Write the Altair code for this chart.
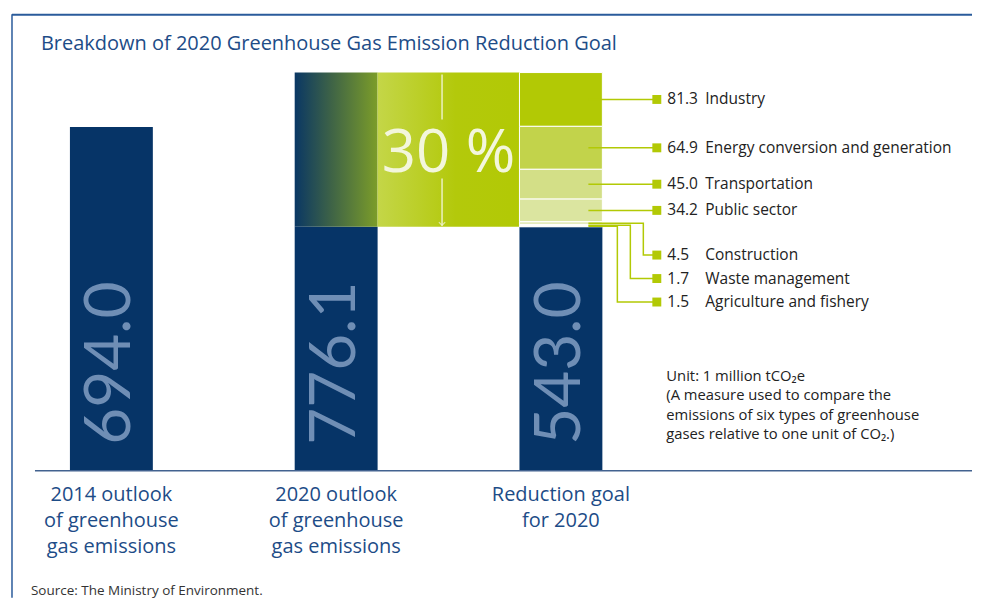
import altair as alt
import pandas as pd

# ---------------- data ----------------
category_lines = [
    ["2014 outlook", "of greenhouse", "gas emissions"],
    ["2020 outlook", "of greenhouse", "gas emissions"],
    ["Reduction goal", "for 2020"],
]
bar_totals = [694.0, 776.1, 543.0]          # 2014 outlook, 2020 outlook, 2020 goal
sectors = ["Industry", "Energy conversion and generation", "Transportation",
           "Public sector", "Construction", "Waste management", "Agriculture and fishery"]
sector_values = [81.3, 64.9, 45.0, 34.2, 4.5, 1.7, 1.5]
sector_colors = ["#b2c905", "#c2d34b", "#d3df87", "#dbe5a0", "#e4ebbb", "#edf2d3", "#f4f6e2"]
reduction_text = "30 %"
title_text = "Breakdown of 2020 Greenhouse Gas Emission Reduction Goal"
unit_lines = ["Unit: 1 million tCO\u2082e", "(A measure used to compare the",
              "emissions of six types of greenhouse", "gases relative to one unit of CO\u2082.)"]
source_text = "Source: The Ministry of Environment."

# ---------------- layout ----------------
W, H = 965, 590
X0, X1 = -0.46, 3.829
Y0, Y1 = -17.5, 873.2
FLOOR = 174.2
PXU = W / (X1 - X0)
PYU = H / (Y1 - Y0)
def dx(px): return px / PXU
def dy(px): return px / PYU
HW = dx(41.5)

NAVY = "#063467"
LIME = "#b2c905"
BLUE_TXT = "#1d4c87"
FONT = "Open Sans"

GOAL = bar_totals[2]
OUTLOOK = bar_totals[1]

xs = alt.Scale(domain=[X0, X1], nice=False, zero=False)
ys = alt.Scale(domain=[Y0, Y1], nice=False, zero=False)
def X(f="x"): return alt.X(f"{f}:Q", scale=xs, axis=None)
def Y(f="y"): return alt.Y(f"{f}:Q", scale=ys, axis=None)

# navy bars
navy = pd.DataFrame({
    "x": [i - HW for i in range(3)],
    "x2": [i + HW for i in range(3)],
    "y": [FLOOR] * 3,
    "y2": [bar_totals[0], GOAL, GOAL],
})
navy_layer = alt.Chart(navy).mark_bar(color=NAVY).encode(
    x=X(), x2="x2:Q", y=Y(), y2="y2:Q")

# gradient top of 2020 outlook bar
grad1 = alt.Gradient(gradient="linear", x1=0, x2=1, y1=0, y2=0, stops=[
    alt.GradientStop(offset=0, color="#0a3764"),
    alt.GradientStop(offset=0.45, color="#3f6446"),
    alt.GradientStop(offset=1, color="#7c9d29")])
top2 = pd.DataFrame({"x": [1 - HW], "x2": [1 + HW], "y": [GOAL], "y2": [OUTLOOK]})
top2_layer = alt.Chart(top2).mark_bar(color=grad1).encode(x=X(), x2="x2:Q", y=Y(), y2="y2:Q")

# 30% reduction block
grad2 = alt.Gradient(gradient="linear", x1=0, x2=1, y1=0, y2=0, stops=[
    alt.GradientStop(offset=0, color="#c4d648"),
    alt.GradientStop(offset=0.55, color="#b3c90b"),
    alt.GradientStop(offset=1, color="#b2c905")])
block = pd.DataFrame({"x": [1 + HW], "x2": [2 - HW], "y": [GOAL], "y2": [OUTLOOK]})
block_layer = alt.Chart(block).mark_bar(color=grad2).encode(x=X(), x2="x2:Q", y=Y(), y2="y2:Q")

# sector stack on goal bar (agriculture at bottom)
lo, hi = {}, {}
acc = GOAL
for s, v in reversed(list(zip(sectors, sector_values))):
    lo[s] = acc
    acc += v
    hi[s] = acc
stack = pd.DataFrame({
    "sector": sectors,
    "value": sector_values,
    "x": [2 - HW] * 7, "x2": [2 + HW] * 7,
    "y": [lo[s] for s in sectors], "y2": [hi[s] for s in sectors],
})
stack_layer = alt.Chart(stack).mark_bar(stroke="white", strokeWidth=1).encode(
    x=X(), x2="x2:Q", y=Y(), y2="y2:Q",
    color=alt.Color("sector:N", scale=alt.Scale(domain=sectors, range=sector_colors), legend=None))

# rotated value labels in bars
vals = pd.DataFrame({"x": [0, 1, 2], "y": [FLOOR + dy(26)] * 3,
                     "t": [f"{v:.1f}" for v in bar_totals]})
vals_layer = alt.Chart(vals).mark_text(angle=270, align="left", baseline="middle",
                                       fontSize=64, font="Lato", fontWeight="normal",
                                       color="#6f8eb5").encode(x=X(), y=Y(), text="t:N")

# 30 % text
pct = pd.DataFrame({"x": [1.5], "y": [OUTLOOK - dy(100)], "t": [reduction_text]})
pct_layer = alt.Chart(pct).mark_text(align="center", baseline="alphabetic", fontSize=60,
                                     font=FONT, color="#f3f6dc").encode(x=X(), y=Y(), text="t:N")

# arrow
AX = 1.5 - dx(6.5)
arrow = pd.DataFrame({"x": [AX, AX], "y": [OUTLOOK - dy(2), OUTLOOK - dy(106)],
                      "y2": [OUTLOOK - dy(47), GOAL + dy(1)]})
arrow_layer = alt.Chart(arrow).mark_rule(color="#f3f6dc", strokeWidth=1.3).encode(
    x=X(), y=Y(), y2="y2:Q")
head = pd.DataFrame({"x": [AX], "y": [GOAL + dy(1.5)]})
head_layer = alt.Chart(head).mark_point(shape="M -1 -1 L 0 0 L 1 -1", filled=False,
                                        color="#f3f6dc", strokeWidth=1.3, size=40).encode(x=X(), y=Y())

# leader lines, markers, labels
R = 2 + HW
start_x = R - dx(14)
marker_x = R + dx(54.5)
bend_x = {"Construction": R + dx(41), "Waste management": R + dx(28), "Agriculture and fishery": R + dx(15)}
label_y = {}
small_i = 0
for s, v in zip(sectors, sector_values):
    mid = (lo[s] + hi[s]) / 2
    if v >= 10:
        label_y[s] = mid
    else:
        label_y[s] = GOAL - dy(28.3) - dy(23.5) * small_i
        small_i += 1
rows = []
for s in sectors:
    mid = (lo[s] + hi[s]) / 2
    if s in bend_x:
        pts = [(start_x, mid), (bend_x[s], mid), (bend_x[s], label_y[s]), (marker_x, label_y[s])]
    else:
        pts = [(start_x, mid), (marker_x, label_y[s])]
    for k, (px, py) in enumerate(pts):
        rows.append({"sector": s, "ord": k, "x": px, "y": py})
leaders = pd.DataFrame(rows)
leader_layer = alt.Chart(leaders).mark_line(color=LIME, strokeWidth=1.5, interpolate="linear").encode(
    x=X(), y=Y(), detail="sector:N", order="ord:Q")

lab = pd.DataFrame({
    "sector": sectors,
    "value": [f"{v:.1f}" for v in sector_values],
    "y": [label_y[s] for s in sectors],
    "mx": [marker_x] * 7,
    "vx": [R + dx(65)] * 7,
    "lx": [R + dx(103)] * 7,
})
marker_layer = alt.Chart(lab).mark_square(color=LIME, size=80, opacity=1).encode(x=X("mx"), y=Y())
vtext_layer = alt.Chart(lab).mark_text(align="left", baseline="middle", fontSize=15.5, font=FONT,
                                       color="#222222").encode(x=X("vx"), y=Y(), text="value:N")
ltext_layer = alt.Chart(lab).mark_text(align="left", baseline="middle", fontSize=15.5, font=FONT,
                                       color="#222222").encode(x=X("lx"), y=Y(), text="sector:N")

# category labels under bars
cats = pd.DataFrame({"x": [0, 1, 2], "y": [FLOOR - dy(14)] * 3,
                     "t": ["\n".join(c) for c in category_lines]})
cat_layer = alt.Chart(cats).mark_text(align="center", baseline="top", lineBreak="\n", lineHeight=26,
                                      fontSize=20, font=FONT, color=BLUE_TXT).encode(
    x=X(), y=Y(), text="t:N")

# baseline
base = pd.DataFrame({"x": [X0 + dx(27)], "x2": [X1], "y": [FLOOR]})
base_layer = alt.Chart(base).mark_rule(color="#42628f", strokeWidth=1.5).encode(x=X(), x2="x2:Q", y=Y())

# title, unit note, source
title_layer = alt.Chart(pd.DataFrame({"t": [title_text]})).mark_text(
    align="left", baseline="alphabetic", fontSize=20, font=FONT, color=BLUE_TXT).encode(
    x=alt.value(33), y=alt.value(41.5), text="t:N")
unit_layer = alt.Chart(pd.DataFrame({"t": ["\n".join(unit_lines)]})).mark_text(
    align="left", baseline="alphabetic", fontSize=14.8, font=FONT, color="#222222",
    lineBreak="\n", lineHeight=19.5).encode(x=alt.value(659), y=alt.value(373), text="t:N")
source_layer = alt.Chart(pd.DataFrame({"t": [source_text]})).mark_text(
    align="left", baseline="alphabetic", fontSize=13.5, font=FONT, color="#333333").encode(
    x=alt.value(23), y=alt.value(587), text="t:N")

# frame
frame_top = alt.Chart(pd.DataFrame({"a": [0]})).mark_rule(color="#2a5b9b", strokeWidth=2).encode(
    x=alt.value(4), x2=alt.value(W), y=alt.value(6.5))
frame_left = alt.Chart(pd.DataFrame({"a": [0]})).mark_rule(color="#2a5b9b", strokeWidth=1.5).encode(
    x=alt.value(4), y=alt.value(6), y2=alt.value(H))

chart = alt.layer(
    frame_top, frame_left,
    navy_layer, top2_layer, block_layer, stack_layer,
    vals_layer, pct_layer, arrow_layer, head_layer,
    leader_layer, marker_layer, vtext_layer, ltext_layer,
    base_layer, cat_layer, title_layer, unit_layer, source_layer,
).properties(width=W, height=H, padding=0).configure_view(strokeWidth=0)

chart.save("out.html", embed_options={"renderer": "svg", "actions": False})
